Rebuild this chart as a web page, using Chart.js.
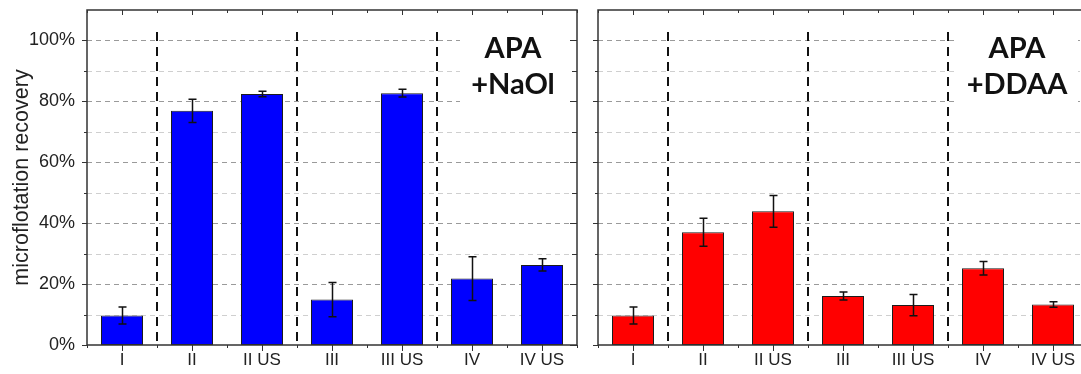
<!DOCTYPE html>
<html>
<head>
<meta charset="utf-8">
<script src="https://cdn.jsdelivr.net/npm/chart.js@4.4.1/dist/chart.umd.min.js"></script>
<style>
  html, body { margin: 0; padding: 0; background: #fff; }
  body { width: 1081px; height: 374px; overflow: hidden; position: relative; }
  .panel { position: absolute; top: 0; height: 374px; }
  #left { left: 0; width: 590px; }
  #right { left: 590px; width: 510px; }
</style>
</head>
<body>
<div class="panel" id="left"><canvas id="cLeft" width="590" height="374"></canvas></div>
<div class="panel" id="right"><canvas id="cRight" width="510" height="374"></canvas></div>
<script>
// Sample categories (US = ultrasound-treated)
const categories = ['I', 'II', 'II US', 'III', 'III US', 'IV', 'IV US'];

// APA + NaOl collector: recovery (%) and standard deviation
const naolRecovery = [9.7, 76.9, 82.4, 14.9, 82.7, 21.8, 26.3];
const naolError    = [2.8, 3.8, 0.9, 5.6, 1.3, 7.2, 2.0];

// APA + DDAA collector: recovery (%) and standard deviation
const ddaaRecovery = [9.7, 37.0, 43.9, 16.1, 13.1, 25.2, 13.3];
const ddaaError    = [2.8, 4.6, 5.2, 1.3, 3.5, 2.2, 0.9];

// Group separators sit after these category indices
const separatorsAfter = [0, 2, 4];

// y-axis range and labelled ticks
const yMax = 110;
const yLabelTicks = [0, 20, 40, 60, 80, 100];

const FRAME = '#333';

// Custom drawing: dashed grid, group separators, error bars, frame ticks, panel label
const panelPlugin = {
  id: 'panelDecor',
  beforeDatasetsDraw(chart, args, opts) {
    const ctx = chart.ctx;
    const { left, right, top, bottom } = chart.chartArea;
    const y = chart.scales.y, x = chart.scales.x;
    ctx.save();
    // horizontal dashed grid lines every 10 %
    ctx.lineWidth = 1;
    ctx.setLineDash([5, 4]);
    for (let v = 10; v < yMax; v += 10) {
      const py = Math.round(y.getPixelForValue(v)) + 0.5;
      ctx.strokeStyle = (v % 20 === 0) ? '#9a9a9a' : '#cfcfcf';
      ctx.beginPath();
      ctx.moveTo(left, py);
      ctx.lineTo(right, py);
      ctx.stroke();
    }
    // white backing behind the panel label
    ctx.setLineDash([]);
    ctx.fillStyle = '#fff';
    ctx.fillRect(right - opts.boxRight - opts.boxWidth, top + 1, opts.boxWidth, opts.boxBottom - top);
    // vertical group separators
    ctx.strokeStyle = '#111';
    ctx.lineWidth = 2;
    ctx.setLineDash([9, 6]);
    separatorsAfter.forEach(i => {
      const px = Math.round((x.getPixelForValue(i) + x.getPixelForValue(i + 1)) / 2);
      ctx.beginPath();
      ctx.moveTo(px, top + 22);
      ctx.lineTo(px, bottom);
      ctx.stroke();
    });
    ctx.restore();
  },
  afterDatasetsDraw(chart, args, opts) {
    const ctx = chart.ctx;
    const y = chart.scales.y, x = chart.scales.x;
    const { left, right, top, bottom } = chart.chartArea;
    const values = chart.data.datasets[0].data;
    const errors = opts.errors;
    ctx.save();
    // error bars
    ctx.strokeStyle = '#111';
    ctx.lineWidth = 1.5;
    const meta = chart.getDatasetMeta(0);
    meta.data.forEach((bar, i) => {
      const px = Math.round(bar.x) + 0.5;
      const yHi = y.getPixelForValue(values[i] + errors[i]);
      const yLo = y.getPixelForValue(values[i] - errors[i]);
      ctx.beginPath();
      ctx.moveTo(px, yHi); ctx.lineTo(px, yLo);
      ctx.moveTo(px - 4, yHi); ctx.lineTo(px + 4, yHi);
      ctx.moveTo(px - 4, yLo); ctx.lineTo(px + 4, yLo);
      ctx.stroke();
    });
    // frame
    ctx.strokeStyle = FRAME;
    ctx.lineWidth = 1.5;
    ctx.strokeRect(left, top, right - left, bottom - top);
    // x ticks: category centres and boundaries
    ctx.lineWidth = 1;
    const n = categories.length;
    for (let i = 0; i < n; i++) {
      const px = Math.round(x.getPixelForValue(i)) + 0.5;
      ctx.beginPath();
      ctx.moveTo(px, bottom); ctx.lineTo(px, bottom + 6);
      ctx.moveTo(px, top); ctx.lineTo(px, top + 5);
      ctx.stroke();
    }
    for (let i = 0; i <= n; i++) {
      const px = Math.round(x.getPixelForValue(i - 0.5)) + 0.5;
      ctx.beginPath();
      ctx.moveTo(px, bottom); ctx.lineTo(px, bottom + 3);
      ctx.moveTo(px, top); ctx.lineTo(px, top + 3);
      ctx.stroke();
    }
    // y ticks: outside on the left, inside on the right
    for (let v = 0; v < yMax; v += 10) {
      const py = Math.round(y.getPixelForValue(v)) + 0.5;
      const major = v % 20 === 0;
      ctx.beginPath();
      ctx.moveTo(left, py); ctx.lineTo(left - (major ? 5 : 3), py);
      ctx.moveTo(right, py); ctx.lineTo(right - (major ? 7 : 5), py);
      ctx.stroke();
    }
    // panel label
    ctx.fillStyle = '#111';
    ctx.font = 'bold 29px Lato';
    ctx.textAlign = 'center';
    ctx.textBaseline = 'middle';
    const cx = right - opts.textRight;
    opts.label.forEach((line, k) => {
      ctx.fillText(line, cx, top + 39 + k * 36);
    });
    ctx.restore();
  }
};

function makeChart(canvasId, values, errors, colour, label, showAxis, layoutPad, yWidth, decor) {
  return new Chart(document.getElementById(canvasId), {
    type: 'bar',
    data: {
      labels: categories,
      datasets: [{
        data: values,
        backgroundColor: colour,
        borderColor: '#1c1c1c',
        borderWidth: 1,
        borderSkipped: false,
        categoryPercentage: 1.0,
        barPercentage: 0.6
      }]
    },
    options: {
      responsive: false,
      animation: false,
      events: [],
      layout: { padding: layoutPad },
      plugins: {
        legend: { display: false },
        tooltip: { enabled: false },
        panelDecor: Object.assign({ errors, label }, decor)
      },
      scales: {
        x: {
          grid: { display: false, drawTicks: false },
          border: { display: false },
          ticks: {
            color: '#222',
            font: { family: 'Liberation Sans', size: 17 },
            padding: 5,
            maxRotation: 0,
            autoSkip: false
          },
          afterFit(scale) {
            scale.height = 29;
            scale.paddingLeft = 0;
            scale.paddingRight = 0;
          }
        },
        y: {
          min: 0,
          max: yMax,
          grid: { display: false, drawTicks: false },
          border: { display: false },
          ticks: {
            display: showAxis,
            stepSize: 10,
            padding: 12,
            color: '#222',
            font: { family: 'Liberation Sans', size: 18 },
            callback: (v) => yLabelTicks.includes(v) ? v + '%' : ''
          },
          title: {
            display: showAxis,
            text: 'microflotation recovery',
            color: '#222',
            font: { family: 'Liberation Sans', size: 21.5 },
            padding: { top: 9, bottom: 0 }
          },
          afterFit(scale) {
            scale.width = yWidth;
            scale.paddingTop = 0;
            scale.paddingBottom = 0;
          }
        }
      }
    },
    plugins: [panelPlugin]
  });
}

makeChart('cLeft', naolRecovery, naolError, '#0000ff', ['APA', '+NaOl'], true,
  { top: 10, right: 13, left: 0, bottom: 0 }, 87,
  { boxWidth: 117, boxRight: 0, boxBottom: 112, textRight: 64 });

makeChart('cRight', ddaaRecovery, ddaaError, '#ff0000', ['APA', '+DDAA'], false,
  { top: 10, right: 12, left: 0, bottom: 0 }, 8,
  { boxWidth: 121, boxRight: 10, boxBottom: 112, textRight: 71 });
</script>
</body>
</html>
